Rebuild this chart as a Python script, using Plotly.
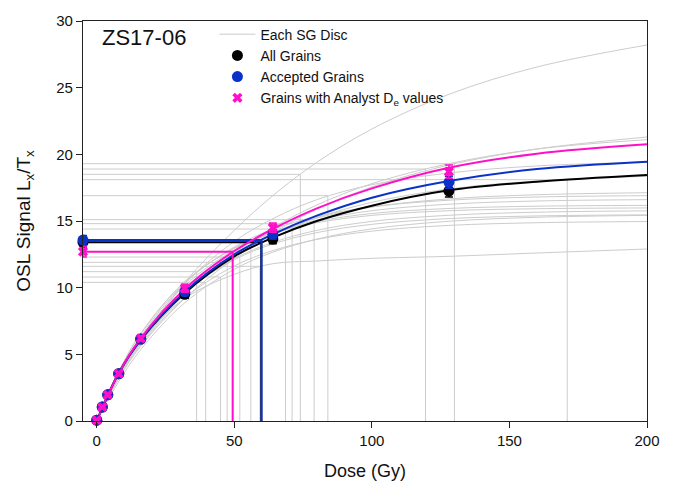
import plotly.graph_objects as go

# ---------------- data ----------------
NATURAL_DOSE = -5
DOSES = [0, 2, 4, 8, 16, 32, 64, 128]

ALL_NAT = 13.4
ALL_NAT_ERR = 0.35
ALL_LX = [0.06, 1.05, 1.96, 3.55, 6.15, 9.5, 13.65, 17.25]
ALL_ERR = [0.08, 0.1, 0.1, 0.15, 0.2, 0.3, 0.35, 0.45]

ACC_NAT = 13.57
ACC_NAT_ERR = 0.35
ACC_LX = [0.06, 1.05, 1.96, 3.55, 6.15, 9.7, 14.0, 17.9]
ACC_ERR = [0.08, 0.1, 0.1, 0.15, 0.2, 0.3, 0.35, 0.45]

AN_NAT = 12.7
AN_NAT_ERR = 0.4
AN_LX = [0.06, 1.05, 1.96, 3.55, 6.2, 9.95, 14.5, 18.7]
AN_ERR = [0.08, 0.1, 0.1, 0.15, 0.2, 0.3, 0.35, 0.5]

CURVE_DOSE = [0, 8, 16, 32, 50, 64, 80, 100, 128, 160, 200]
ALL_CURVE = [0, 3.6, 6.1, 9.6, 12.35, 13.75, 15.0, 16.15, 17.3, 17.95, 18.45]
ACC_CURVE = [0, 3.6, 6.1, 9.7, 12.5, 14.0, 15.4, 16.75, 18.0, 18.9, 19.45]
AN_CURVE = [0, 3.6, 6.2, 9.9, 12.75, 14.4, 15.95, 17.45, 19.0, 20.05, 20.75]

ALL_DE = 59.8
ACC_DE = 59.9
AN_DE = 49.4

# single-grain discs (grey)
GRAY_LN = [19.3, 18.9, 18.5, 18.1, 16.9, 15.1, 14.8, 14.4, 13.5, 12.3, 11.9, 10.4, 11.2, 10.8, 11.6]
GRAY_DE = [130, 119.5, 74, 171, 84, 79, 71, 68.6, 56, 52, 47.4, 39.6, 36.3, 45, 59.3]
GRAY_CURVES = [
    [0, 3.2, 5.6, 9.2, 12.2, 14.1, 15.9, 17.55, 19.2, 20.4, 21.3],
    [0, 3.3, 5.8, 9.5, 12.6, 14.5, 16.2, 17.8, 19.3, 20.4, 21.1],
    [0, 3.3, 6.0, 10.4, 14.3, 16.9, 19.4, 21.9, 24.5, 26.55, 28.2],
    [0, 3.4, 5.9, 9.5, 12.4, 13.95, 15.25, 16.4, 17.4, 18.0, 18.35],
    [0, 3.33, 6.09, 10.29, 13.47, 15.17, 16.6, 17.72, 18.6, 19.13, 19.42],
    [0, 3.34, 6.04, 9.96, 12.75, 14.15, 15.22, 16.05, 16.66, 16.97, 17.12],
    [0, 3.55, 6.36, 10.34, 13.05, 14.37, 15.34, 16.06, 16.56, 16.8, 16.9],
    [0, 3.49, 6.25, 10.16, 12.82, 14.11, 15.07, 15.77, 16.26, 16.5, 16.6],
    [0, 3.68, 6.53, 10.43, 12.97, 14.14, 14.97, 15.56, 15.94, 16.11, 16.17],
    [0, 3.31, 5.93, 9.64, 12.17, 13.39, 14.3, 14.97, 15.43, 15.66, 15.76],
    [0, 3.34, 5.96, 9.62, 12.09, 13.27, 14.13, 14.75, 15.18, 15.38, 15.46],
    [0, 3.19, 5.70, 9.23, 11.63, 12.78, 13.62, 14.24, 14.67, 14.87, 14.96],
    [0, 3.72, 6.58, 10.45, 12.94, 14.08, 14.87, 15.42, 15.77, 15.92, 15.98],
    [0, 2.96, 5.36, 8.87, 11.38, 12.66, 13.64, 14.41, 14.98, 15.28, 15.42],
    [0, 3.6, 6.1, 9.2, 11.0, 11.8, 12.0, 12.2, 12.35, 12.6, 12.9],
]

SAMPLE_NAME = "ZS17-06"
X_TICKS = [0, 50, 100, 150, 200]
Y_TICKS = [0, 5, 10, 15, 20, 25, 30]

# ---------------- styles ----------------
FONT = "Arial, Liberation Sans, sans-serif"
GREY = "#cccccc"
BLACK = "#000000"
BLUE = "#0a32c8"
PINK = "#ff10c8"

fig = go.Figure()


def de_path(ln, de):
    return [NATURAL_DOSE, de, de], [ln, ln, 0]


# grey disc curves
for i, curve in enumerate(GRAY_CURVES):
    fig.add_trace(go.Scatter(
        x=CURVE_DOSE, y=curve, mode="lines",
        line=dict(color=GREY, width=1, shape="spline"),
        name="Each SG Disc", legendgroup="sg", showlegend=(i == 0),
        hoverinfo="skip"))

# grey De projection lines
gx, gy = [], []
for ln, de in zip(GRAY_LN, GRAY_DE):
    px, py = de_path(ln, de)
    gx += px + [None]
    gy += py + [None]
fig.add_trace(go.Scatter(x=gx, y=gy, mode="lines",
                         line=dict(color=GREY, width=1),
                         showlegend=False, hoverinfo="skip"))

# coloured curves and De projections
for curve, nat, de, col in [(ALL_CURVE, ALL_NAT, ALL_DE, BLACK),
                            (ACC_CURVE, ACC_NAT, ACC_DE, BLUE),
                            (AN_CURVE, AN_NAT, AN_DE, PINK)]:
    fig.add_trace(go.Scatter(x=CURVE_DOSE, y=curve, mode="lines",
                             line=dict(color=col, width=2, shape="spline"),
                             showlegend=False, hoverinfo="skip"))
    px, py = de_path(nat, de)
    fig.add_trace(go.Scatter(x=px, y=py, mode="lines",
                             line=dict(color=col, width=2),
                             showlegend=False, hoverinfo="skip"))

# markers
for name, nat, nerr, vals, errs, col, sym, size in [
    ("All Grains", ALL_NAT, ALL_NAT_ERR, ALL_LX, ALL_ERR, BLACK, "circle", 11),
    ("Accepted Grains", ACC_NAT, ACC_NAT_ERR, ACC_LX, ACC_ERR, BLUE, "circle", 11),
    ("Grains with Analyst D<sub>e</sub> values", AN_NAT, AN_NAT_ERR, AN_LX, AN_ERR, PINK, "x", 9),
]:
    fig.add_trace(go.Scatter(
        x=[NATURAL_DOSE] + DOSES, y=[nat] + vals, mode="markers",
        marker=dict(color=col, symbol=sym, size=size, line=dict(width=0)),
        error_y=dict(type="data", array=[nerr] + errs, color=col,
                     thickness=1.5, width=4),
        name=name, cliponaxis=False))

fig.add_annotation(text=SAMPLE_NAME, xref="paper", yref="paper",
                   x=0.031, y=0.96, xanchor="left", yanchor="middle",
                   showarrow=False, font=dict(family=FONT, size=22, color="#111"))

axis_common = dict(showline=True, linecolor="#222", linewidth=1.2, mirror=True,
                   ticks="outside", ticklen=6, tickwidth=1.2, tickcolor="#222",
                   showgrid=False, zeroline=False,
                   tickfont=dict(family=FONT, size=15, color="#111"))

fig.update_layout(
    width=675, height=491,
    margin=dict(l=83, r=28, t=16, b=70),
    paper_bgcolor="white", plot_bgcolor="white",
    font=dict(family=FONT, color="#111"),
    xaxis=dict(range=[NATURAL_DOSE, 200], tickvals=X_TICKS,
               title=dict(text="Dose (Gy)", font=dict(family=FONT, size=18), standoff=16),
               **axis_common),
    yaxis=dict(range=[0, 30], tickvals=Y_TICKS,
               title=dict(text="OSL Signal L<sub>x</sub>/T<sub>x</sub>",
                          font=dict(family=FONT, size=19), standoff=20),
               **axis_common),
    legend=dict(x=0.233, y=1.006, xanchor="left", yanchor="top",
                bgcolor="rgba(0,0,0,0)", font=dict(family=FONT, size=14, color="#111"),
                tracegroupgap=0, itemwidth=36),
    showlegend=True,
)

fig.write_html("out.html")
